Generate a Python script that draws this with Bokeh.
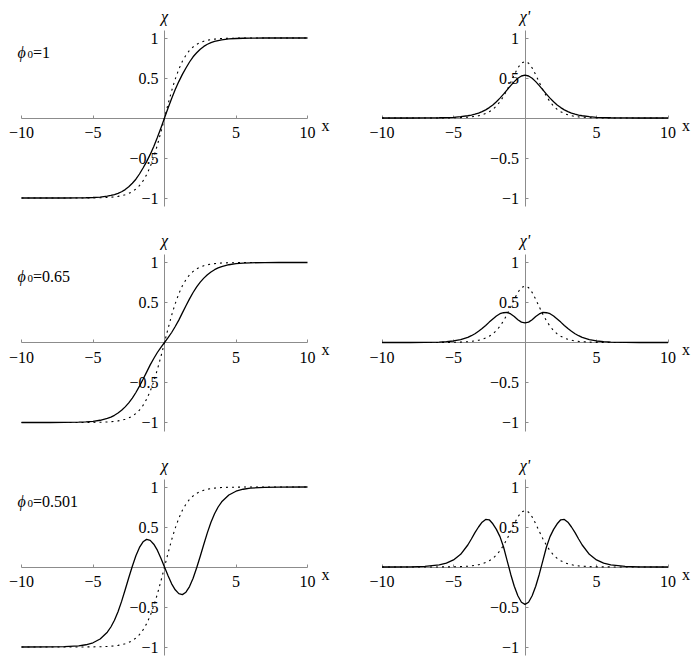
from bokeh.plotting import figure
from bokeh.layouts import column, row
from bokeh.models import FixedTicker, Label
from bokeh.embed import file_html
from bokeh.resources import INLINE

# ---------------- data ----------------
X = [-10, -8, -7, -6, -5.5, -5, -4.5, -4, -3.75, -3.5, -3.25, -3, -2.75, -2.5, -2.25, -2,
     -1.75, -1.5, -1.25, -1, -0.75, -0.5, -0.25, 0, 0.25, 0.5, 0.75, 1, 1.25, 1.5, 1.75, 2,
     2.25, 2.5, 2.75, 3, 3.25, 3.5, 3.75, 4, 4.5, 5, 5.5, 6, 7, 8, 10]

# dotted reference kink (same in every row)
CHI_DOT = [-1.0, -1.0, -1.0, -1.0, -0.999, -0.998, -0.997, -0.993, -0.990, -0.986, -0.980, -0.972,
           -0.960, -0.943, -0.920, -0.888, -0.845, -0.786, -0.709, -0.609, -0.486, -0.340, -0.175,
           0.0, 0.175, 0.340, 0.486, 0.609, 0.709, 0.786, 0.845, 0.888, 0.920, 0.943, 0.960, 0.972,
           0.980, 0.986, 0.990, 0.993, 0.997, 0.998, 0.999, 1.0, 1.0, 1.0, 1.0]
DCHI_DOT = [0.0, 0.0, 0.0, 0.001, 0.001, 0.002, 0.005, 0.010, 0.014, 0.020, 0.028, 0.040, 0.056,
            0.078, 0.108, 0.149, 0.203, 0.271, 0.352, 0.445, 0.540, 0.626, 0.686, 0.707, 0.686,
            0.626, 0.540, 0.445, 0.352, 0.271, 0.203, 0.149, 0.108, 0.078, 0.056, 0.040, 0.028,
            0.020, 0.014, 0.010, 0.005, 0.002, 0.001, 0.001, 0.0, 0.0, 0.0]

# phi0 = 1
CHI_1 = [-1.0, -1.0, -1.0, -0.998, -0.997, -0.994, -0.988, -0.977, -0.968, -0.957, -0.942, -0.922,
         -0.895, -0.860, -0.815, -0.765, -0.700, -0.625, -0.545, -0.455, -0.355, -0.245, -0.125,
         0.0, 0.125, 0.245, 0.355, 0.455, 0.545, 0.625, 0.700, 0.765, 0.815, 0.860, 0.895, 0.922,
         0.942, 0.957, 0.968, 0.977, 0.988, 0.994, 0.997, 0.998, 1.0, 1.0, 1.0]
DCHI_1 = [0.0, 0.0, 0.001, 0.003, 0.005, 0.009, 0.016, 0.028, 0.037, 0.048, 0.062, 0.080, 0.102,
          0.130, 0.163, 0.203, 0.248, 0.298, 0.352, 0.405, 0.455, 0.497, 0.525, 0.535, 0.525,
          0.497, 0.455, 0.405, 0.352, 0.298, 0.248, 0.203, 0.163, 0.130, 0.102, 0.080, 0.062,
          0.048, 0.037, 0.028, 0.016, 0.009, 0.005, 0.003, 0.001, 0.0, 0.0]

# phi0 = 0.65
CHI_2 = [-1.0, -1.0, -0.999, -0.996, -0.992, -0.985, -0.972, -0.948, -0.932, -0.910, -0.882, -0.848,
         -0.805, -0.755, -0.695, -0.625, -0.545, -0.460, -0.370, -0.280, -0.200, -0.125, -0.060,
         0.0, 0.060, 0.125, 0.200, 0.280, 0.370, 0.460, 0.545, 0.625, 0.695, 0.755, 0.805, 0.848,
         0.882, 0.910, 0.932, 0.948, 0.972, 0.985, 0.992, 0.996, 0.999, 1.0, 1.0]
DCHI_2 = [0.0, 0.0, 0.001, 0.005, 0.010, 0.019, 0.036, 0.064, 0.085, 0.110, 0.140, 0.175, 0.213,
          0.255, 0.295, 0.332, 0.360, 0.372, 0.376, 0.357, 0.325, 0.285, 0.255, 0.245, 0.255,
          0.285, 0.325, 0.357, 0.376, 0.372, 0.360, 0.332, 0.295, 0.255, 0.213, 0.175, 0.140,
          0.110, 0.085, 0.064, 0.036, 0.019, 0.010, 0.005, 0.001, 0.0, 0.0]

# phi0 = 0.501
CHI_3 = [-1.0, -0.999, -0.996, -0.986, -0.972, -0.947, -0.900, -0.815, -0.750, -0.665, -0.560, -0.430,
         -0.285, -0.135, 0.010, 0.140, 0.245, 0.315, 0.345, 0.333, 0.285, 0.210, 0.110,
         0.0, -0.110, -0.210, -0.285, -0.333, -0.345, -0.315, -0.245, -0.140, -0.010, 0.135, 0.285,
         0.430, 0.560, 0.665, 0.750, 0.815, 0.900, 0.947, 0.972, 0.986, 0.996, 0.999, 1.0]
DCHI_3 = [0.0, 0.002, 0.008, 0.026, 0.048, 0.088, 0.158, 0.275, 0.350, 0.430, 0.500, 0.560, 0.595,
          0.590, 0.540, 0.470, 0.380, 0.250, 0.080, -0.090, -0.240, -0.360, -0.440, -0.467, -0.440,
          -0.360, -0.240, -0.090, 0.080, 0.250, 0.380, 0.470, 0.540, 0.590, 0.595, 0.560, 0.500,
          0.430, 0.350, 0.275, 0.158, 0.088, 0.048, 0.026, 0.008, 0.002, 0.0]

PHI0_VALUES = ["1", "0.65", "0.501"]
X_TICKS = [-10, -5, 5, 10]
X_TICK_LABELS = ["\u221210", "\u22125", "5", "10"]
Y_TICKS = [-1, -0.5, 0.5, 1]
Y_TICK_LABELS = ["\u22121", "\u22120.5", "0.5", "1"]
LEFT_LABEL = "\u03c7"
RIGHT_LABEL = "\u03c7'"
X_LABEL = "x"
PHI_SYMBOL = "\u03d5"
X_AXIS_EXTENT = (-10, 10)
Y_AXIS_EXTENT = (-1.11, 1.1)

# ---------------- geometry / styling ----------------
SERIF = "Liberation Serif"
FS = "16px"
AXIS_GRAY = "#8c8c8c"
PX_PER_X = 14.3
PX_PER_Y = 80.0
COL_W = [344, 354]          # widths of left / right columns
COL_X0 = [164.0, 180.5]     # pixel position of x=0 inside each column
ROW_H = [225, 225, 207]     # heights of the three rows
ROW_Y0 = [117.5, 117.0, 116.5]  # pixel position of y=0 inside each row


def panel(col, r, ylabel):
    w, x0 = COL_W[col], COL_X0[col]
    h, y0 = ROW_H[r], ROW_Y0[r]
    p = figure(width=w, height=h,
               x_range=(-x0 / PX_PER_X, (w - x0) / PX_PER_X),
               y_range=(-(h - y0) / PX_PER_Y, y0 / PX_PER_Y),
               output_backend="svg", toolbar_location=None, title=None,
               min_border=0, min_border_left=0, min_border_right=0,
               min_border_top=0, min_border_bottom=0)
    p.outline_line_color = None
    p.grid.visible = False
    p.background_fill_color = "white"
    p.border_fill_color = "white"

    p.xaxis.fixed_location = 0
    p.yaxis.fixed_location = 0
    p.xaxis.bounds = X_AXIS_EXTENT
    p.yaxis.bounds = Y_AXIS_EXTENT
    p.xaxis.ticker = FixedTicker(ticks=X_TICKS)
    p.yaxis.ticker = FixedTicker(ticks=Y_TICKS)
    p.xaxis.major_label_overrides = dict(zip(X_TICKS, X_TICK_LABELS))
    p.yaxis.major_label_overrides = dict(zip(Y_TICKS, Y_TICK_LABELS))
    for ax in (p.xaxis, p.yaxis):
        ax.axis_line_color = AXIS_GRAY
        ax.axis_line_width = 1
        ax.major_tick_line_color = AXIS_GRAY
        ax.major_tick_in = 3
        ax.major_tick_out = 0
        ax.minor_tick_line_color = None
        ax.major_label_text_font = SERIF
        ax.major_label_text_font_size = FS
        ax.major_label_text_color = "black"
        ax.level = "underlay"
    p.xaxis.major_label_standoff = 9
    p.yaxis.major_label_standoff = 6

    p.add_layout(Label(x=0, y=Y_AXIS_EXTENT[1], text=ylabel, text_font=SERIF,
                       text_font_style="italic", text_font_size=FS, text_align="center",
                       text_baseline="middle", y_offset=14, text_color="black"))
    p.add_layout(Label(x=X_AXIS_EXTENT[1], y=0, text=X_LABEL, text_font=SERIF, text_font_size=FS,
                       text_align="left", text_baseline="alphabetic",
                       x_offset=14, y_offset=-7, text_color="black"))
    return p


def phi_label(p, val):
    p.add_layout(Label(x=-10, y=0.82, text=PHI_SYMBOL, text_font=SERIF, text_font_style="italic",
                       text_font_size=FS, text_align="left", text_baseline="alphabetic",
                       x_offset=-4, text_color="black"))
    p.add_layout(Label(x=-10, y=0.82, text="0", text_font=SERIF, text_font_size="11px",
                       text_align="left", text_baseline="alphabetic",
                       x_offset=6, y_offset=-2, text_color="black"))
    p.add_layout(Label(x=-10, y=0.82, text="=" + val, text_font=SERIF,
                       text_font_size=FS, text_align="left", text_baseline="alphabetic",
                       x_offset=11.5, text_color="black"))


SERIES = [(CHI_1, DCHI_1), (CHI_2, DCHI_2), (CHI_3, DCHI_3)]

rows = []
for r, ((chi, dchi), val) in enumerate(zip(SERIES, PHI0_VALUES)):
    pl = panel(0, r, LEFT_LABEL)
    pl.line(X, CHI_DOT, line_color="black", line_width=1.1, line_dash="2 4")
    pl.line(X, chi, line_color="black", line_width=1.3)
    phi_label(pl, val)

    pr = panel(1, r, RIGHT_LABEL)
    pr.line(X, DCHI_DOT, line_color="black", line_width=1.1, line_dash="2 4")
    pr.line(X, dchi, line_color="black", line_width=1.3)
    rows.append(row(pl, pr))

layout = column(*rows)
open("out.html", "w").write(file_html(layout, INLINE))
